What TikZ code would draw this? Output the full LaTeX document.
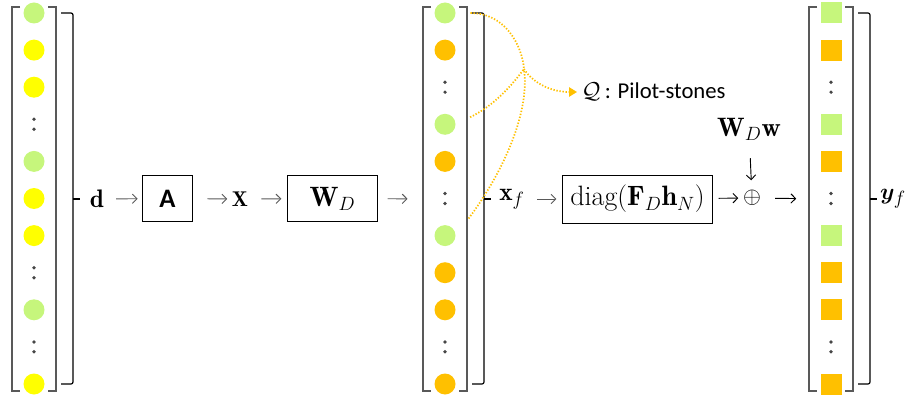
\documentclass[tikz,border=0pt]{standalone}
\usepackage{amsmath,amssymb,bm}
\usepackage{fontspec}
\newfontfamily\carlito{Carlito}
\usetikzlibrary{arrows.meta,positioning}
\definecolor{PilotGreen}{HTML}{C6F67C}
\definecolor{DataYellow}{HTML}{FFFF00}
\definecolor{DataOrange}{HTML}{FFC000}
\definecolor{BrkGray}{HTML}{595959}

\begin{document}
\begin{tikzpicture}[x=0.75pt,y=-0.75pt,>={Straight Barb[length=3.5pt,width=7pt]},
  every node/.style={font=\fontsize{16}{19}\selectfont},
  big/.style={font=\fontsize{19}{22}\selectfont},
  cg/.style={circle,fill=PilotGreen,minimum size=15.75pt,inner sep=0pt},
  cy/.style={circle,fill=DataYellow,minimum size=15.75pt,inner sep=0pt},
  co/.style={circle,fill=DataOrange,minimum size=15.75pt,inner sep=0pt},
  sg/.style={rectangle,fill=PilotGreen,minimum size=15.75pt,inner sep=0pt},
  so/.style={rectangle,fill=DataOrange,minimum size=15.75pt,inner sep=0pt},
  vd/.style={minimum size=15pt,inner sep=0pt,path picture={
      \fill[BrkGray!80!black] ([yshift=3.7pt]path picture bounding box.center) circle (1.4pt)
                     ([yshift=-3.7pt]path picture bounding box.center) circle (1.4pt);}},
  colbox/.style={minimum width=33.75pt,minimum height=288pt,inner sep=0pt},
  brk/.style={draw=BrkGray,line width=1.5pt},
  brc/.style={draw=black,line width=0.9pt,rounded corners=1.5pt},
  opbox/.style={draw,line width=0.7pt,minimum height=35pt,inner sep=2pt},
  flow/.style={->,draw=BrkGray,line width=0.7pt},
  pilot/.style={draw=DataOrange,line width=1.3pt,dash pattern=on 1pt off 1.3pt}]
\useasboundingbox (0,0) rectangle (913,399);

% symbol columns
\foreach \s [count=\k from 0] in {cg,cy,cy,vd,cg,cy,cy,vd,cg,vd,cy}
  \node[\s] (L\k) at (34,13+37.1*\k) {};
\foreach \s [count=\k from 0] in {cg,co,vd,cg,co,vd,cg,co,co,vd,co}
  \node[\s] (M\k) at (445,13+37.1*\k) {};
\foreach \s [count=\k from 0] in {sg,so,vd,sg,so,vd,sg,so,so,vd,so}
  \node[\s] (R\k) at (831,13+37.1*\k) {};
\node[colbox] (colL) at (34,199) {};
\node[colbox] (colM) at (445,199) {};
\node[colbox] (colR) at (831,199) {};

% brackets and braces
\foreach \cx in {34,445,831} {
  \draw[brk] (\cx-14,7) -- (\cx-22,7) -- (\cx-22,391) -- (\cx-14,391);
  \draw[brk] (\cx+14,7) -- (\cx+22,7) -- (\cx+22,391) -- (\cx+14,391);
  \draw[brc] (\cx+27,13) -- (\cx+39,13) -- (\cx+39,384) -- (\cx+27,384);
  \draw[brc] (\cx+39,199) -- (\cx+46,199);
}

% processing chain
\node[big] (d) at (97,199) {$\mathbf{d}$};
\node[opbox,minimum width=38pt] (A) at (167.5,198.5) {\carlito\bfseries\fontsize{20}{22}\selectfont A};
\node (X) at (240,199) {$\mathbf{X}$};
\node[opbox,minimum width=68pt,font=\fontsize{21}{24}\selectfont] (W) at (332.5,198.5) {$\mathbf{W}_D$};
\node[big] (xf) at (512,199) {$\mathbf{x}_f$};
\node[opbox,minimum width=113pt,minimum height=36pt,font=\fontsize{21}{24}\selectfont] (diag) at (637.5,199) {$\mathrm{diag}(\mathbf{F}_D\mathbf{h}_N)$};
\node[font=\fontsize{17}{20}\selectfont] (oplus) at (752,198) {$\oplus$};
\node[font=\fontsize{20}{23}\selectfont] (wdw) at (749,129) {$\mathbf{W}_D\mathbf{w}$};
\node[big] (yf) at (893,199) {$\bm{y}_f$};
\node[anchor=west] (Q) at (577,92) {\fontsize{19}{22}\selectfont$\mathcal{Q}$\,{\carlito\fontsize{17}{20}\selectfont: Pilot-stones}};

\draw[flow,shorten <=5.5pt,shorten >=3pt] (d) -- (A);
\draw[flow,shorten <=10.5pt] (A) -- (X);
\draw[flow,shorten <=6.5pt,shorten >=4pt] (X) -- (W);
\draw[flow,shorten <=7pt,shorten >=11pt] (W) -- (colM);
\draw[flow,shorten <=6pt,shorten >=4pt] (xf) -- (diag);
\draw[->,line width=0.7pt,shorten <=4pt] (diag) -- (oplus);
\draw[->,line width=0.7pt,shorten <=7pt,shorten >=9pt] (oplus) -- (colR);
\draw[->,line width=0.7pt,shorten <=10pt,shorten >=4pt] (wdw) -- (oplus);

% pilot-stone links
\coordinate (jn) at (524,69);
\draw[pilot,shorten <=11pt] (M0.east) .. controls (505,13) and (522,45) .. (jn);
\draw[pilot,shorten <=12pt] (M3.east) .. controls (495,105) and (512,85) .. (jn);
\draw[pilot,shorten <=16pt] (M6.east) .. controls (505,170) and (530,110) .. (jn);
\draw[pilot,-{Triangle[length=6pt,width=7pt]}] (jn) .. controls (532,82) and (550,92) .. (Q.west);
\end{tikzpicture}
\end{document}
